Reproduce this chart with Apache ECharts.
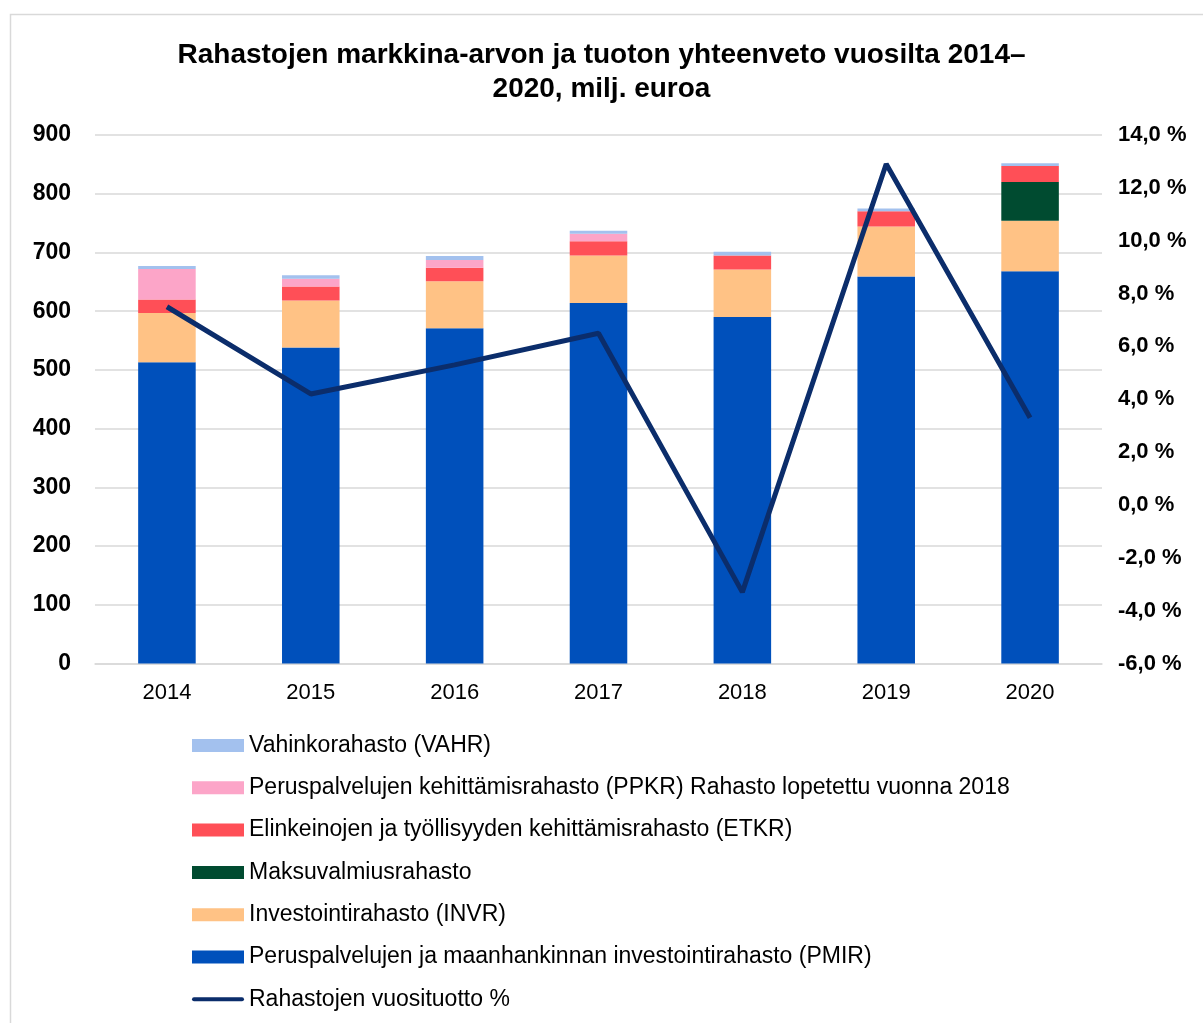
<!DOCTYPE html>
<html>
<head>
<meta charset="utf-8">
<script src="https://cdn.jsdelivr.net/npm/echarts@6/dist/echarts.min.js"></script>
<style>
  html, body { margin: 0; padding: 0; background: #fff; }
  #chart { width: 1203px; height: 1023px; }
</style>
</head>
<body>
<div id="chart"></div>
<script>
// vuodet
const years = ['2014', '2015', '2016', '2017', '2018', '2019', '2020'];

// milj. euroa, luettu kuvasta
const pmir  = [513, 538, 571, 614, 590, 659, 668];
const invr  = [84, 80, 80, 81, 81, 85, 86];
const maksu = [0, 0, 0, 0, 0, 0, 66];
const etkr  = [23, 24, 23, 24, 24, 26, 27];
const ppkr  = [52, 13, 13, 13, 0, 0, 0];
const vahr  = [5, 6, 7, 5, 6, 5, 5];

// vuosituotto %
const tuotto = [7.5, 4.2, 5.3, 6.5, -3.3, 12.9, 3.3];

const names = {
  vahr: 'Vahinkorahasto (VAHR)',
  ppkr: 'Peruspalvelujen kehittämisrahasto (PPKR) Rahasto lopetettu vuonna 2018',
  etkr: 'Elinkeinojen ja työllisyyden kehittämisrahasto (ETKR)',
  maksu: 'Maksuvalmiusrahasto',
  invr: 'Investointirahasto (INVR)',
  pmir: 'Peruspalvelujen ja maanhankinnan investointirahasto (PMIR)',
  line: 'Rahastojen vuosituotto %'
};

const font = '"Liberation Sans", Arial, sans-serif';

function barSeries(name, data, color) {
  return {
    name: name,
    type: 'bar',
    stack: 'rahastot',
    data: data,
    barWidth: '40%',
    itemStyle: { color: color },
    emphasis: { disabled: true }
  };
}

let chart = echarts.init(document.getElementById('chart'));

let option = {
  animation: false,
  textStyle: { fontFamily: font },
  graphic: [{
    type: 'rect',
    shape: { x: 10.5, y: 14.5, width: 1300, height: 1100 },
    style: { fill: 'none', stroke: '#d9d9d9', lineWidth: 1.5 },
    silent: true
  }],
  title: {
    text: 'Rahastojen markkina-arvon ja tuoton yhteenveto vuosilta 2014–\n2020, milj. euroa',
    left: 'center',
    top: 33,
    textStyle: {
      fontFamily: font,
      fontSize: 28,
      fontWeight: 'bold',
      color: '#000',
      lineHeight: 34
    }
  },
  grid: {
    left: 95,
    right: 101,
    top: 135,
    bottom: 359.5
  },
  legend: {
    orient: 'vertical',
    left: 187,
    top: 729,
    itemWidth: 52,
    itemHeight: 13,
    itemGap: 19.3,
    textStyle: { fontFamily: font, fontSize: 23, color: '#000', lineHeight: 22 },
    data: [
      { name: names.vahr, icon: 'rect' },
      { name: names.ppkr, icon: 'rect' },
      { name: names.etkr, icon: 'rect' },
      { name: names.maksu, icon: 'rect' },
      { name: names.invr, icon: 'rect' },
      { name: names.pmir, icon: 'rect' },
      { name: names.line, icon: 'path://M0,0 M0,13 M2,4.5 L50,4.5 A2,2 0 0 1 50,8.5 L2,8.5 A2,2 0 0 1 2,4.5 Z' }
    ]
  },
  xAxis: {
    type: 'category',
    data: years,
    axisTick: { show: false },
    axisLine: { lineStyle: { color: '#d9d9d9', width: 1.5 } },
    axisLabel: { fontFamily: font, fontSize: 22, color: '#000', margin: 18 }
  },
  yAxis: [{
    type: 'value',
    min: 0,
    max: 900,
    interval: 100,
    axisLine: { show: false },
    axisTick: { show: false },
    splitLine: { lineStyle: { color: '#d9d9d9', width: 1.5 } },
    axisLabel: { fontFamily: font, fontSize: 23, fontWeight: 'bold', color: '#000', margin: 24 }
  }, {
    type: 'value',
    min: -6,
    max: 14,
    interval: 2,
    axisLine: { show: false },
    axisTick: { show: false },
    splitLine: { show: false },
    axisLabel: {
      fontFamily: font, fontSize: 22, fontWeight: 'bold', color: '#000', margin: 16,
      formatter: function (v) { return v.toFixed(1).replace('.', ',') + ' %'; }
    }
  }],
  series: [
    barSeries(names.pmir, pmir, '#0050BB'),
    barSeries(names.invr, invr, '#FFC285'),
    barSeries(names.maksu, maksu, '#004B30'),
    barSeries(names.etkr, etkr, '#FF4F57'),
    barSeries(names.ppkr, ppkr, '#FCA5C8'),
    barSeries(names.vahr, vahr, '#A3C1EE'),
    {
      name: names.line,
      type: 'line',
      yAxisIndex: 1,
      data: tuotto,
      symbol: 'none',
      lineStyle: { color: '#0B2D6B', width: 5 },
      itemStyle: { color: '#0B2D6B' },
      emphasis: { disabled: true },
      z: 5
    }
  ]
};

chart.setOption(option);
</script>
</body>
</html>
